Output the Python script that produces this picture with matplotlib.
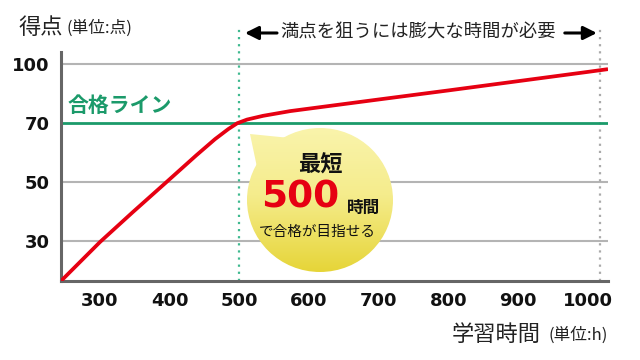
import numpy as np
import matplotlib
matplotlib.use("Agg")
import matplotlib.pyplot as plt
from matplotlib.patches import Ellipse, Polygon
from matplotlib.colors import LinearSegmentedColormap

plt.rcParams['font.family'] = ['Noto Sans CJK JP', 'DejaVu Sans']

# ------------------------------
# data
# ------------------------------
hours = [244, 300, 347, 395, 438, 465, 484, 497, 511, 534, 573, 616, 700, 800, 900, 1000, 1029]
score = [16.5, 29.7, 39.8, 49.9, 59.0, 64.5, 67.9, 69.9, 71.7, 73.6, 76.0, 78.0,
         81.9, 86.5, 91.2, 95.9, 97.3]

x_ticks = [300, 400, 500, 600, 700, 800, 900, 1000]
y_ticks = [30, 50, 70, 100]
pass_score = 70
min_hours = 500
span_end = 1018   # right dotted line (sits a bit past 1000 in the original)

RED = "#e60012"
GREEN = "#1b9a6a"
GRAY_GRID = "#b4b4b4"
AXIS = "#666666"

# y axis is not linear: ticks are evenly spaced
y_vals = [-100, 30, 50, 70, 100, 400]
y_pos = [-6.5, 0, 1, 2, 3, 13]


def fwd(v):
    return np.interp(v, y_vals, y_pos)


def inv(p):
    return np.interp(p, y_pos, y_vals)


fig = plt.figure(figsize=(6.4, 3.6), dpi=100)
ax = fig.add_axes([61 / 640, 79 / 360, 547 / 640, 229 / 360])
ax.set_yscale("function", functions=(fwd, inv))
ax.set_xlim(244, 1029)
ax.set_ylim(16.5, 106)

# grid lines
for v in y_ticks:
    if v == pass_score:
        ax.axhline(v, color=GREEN, lw=2.0, zorder=2)
    else:
        ax.axhline(v, color=GRAY_GRID, lw=1.5, zorder=1)

# dotted verticals
ax.axvline(min_hours, ymin=0, ymax=1.1, color="#3fb98f", lw=1.6,
           ls=(0, (1, 2.2)), clip_on=False, zorder=1)
ax.axvline(span_end, ymin=0, ymax=1.1, color="#aaaaaa", lw=1.6,
           ls=(0, (1, 2.2)), clip_on=False, zorder=1)

# main curve
ax.plot(hours, score, color=RED, lw=2.7, solid_capstyle="butt",
        solid_joinstyle="round", zorder=3)

# spines / ticks
for s in ["top", "right"]:
    ax.spines[s].set_visible(False)
for s in ["left", "bottom"]:
    ax.spines[s].set_color(AXIS)
    ax.spines[s].set_linewidth(2.2)
ax.set_xticks(x_ticks)
ax.set_yticks(y_ticks)
ax.set_xticklabels([str(t) for t in x_ticks])
ax.set_yticklabels([str(t) for t in y_ticks])
ax.tick_params(length=0, pad=8)
for lab in ax.get_xticklabels() + ax.get_yticklabels():
    lab.set_fontfamily("DejaVu Sans")
    lab.set_fontweight("bold")
    lab.set_fontsize(13)
    lab.set_color("#111111")

# labels
ax.text(0.012, 0.768, "合格ライン", transform=ax.transAxes,
        color=GREEN, fontsize=15, fontweight="bold", va="center", ha="left")

fig.text(18 / 640, 1 - 27 / 360, "得点", fontsize=16, color="#222222",
         va="center", ha="left")
fig.text(67 / 640, 1 - 28 / 360, "(単位:点)", fontsize=12, color="#222222",
         va="center", ha="left")
fig.text(452 / 640, 1 - 334 / 360, "学習時間", fontsize=16, color="#222222",
         va="center", ha="left")
fig.text(549 / 640, 1 - 335 / 360, "(単位:h)", fontsize=12, color="#222222",
         va="center", ha="left")

# top message with arrows
ax.text(0.5 * (min_hours + span_end) - 3, 1.083, "満点を狙うには膨大な時間が必要",
        transform=ax.get_xaxis_transform(), fontsize=13.2, color="#222222",
        ha="center", va="center")
arrow_kw = dict(arrowstyle="-|>,head_length=0.8,head_width=0.4", color="black",
                lw=2.2, shrinkA=0, shrinkB=0)
ax.annotate("", xy=(min_hours + 8, 1.083), xytext=(min_hours + 54, 1.083),
            xycoords=ax.get_xaxis_transform(), arrowprops=arrow_kw,
            annotation_clip=False)
ax.annotate("", xy=(span_end - 5, 1.083), xytext=(span_end - 51, 1.083),
            xycoords=ax.get_xaxis_transform(), arrowprops=arrow_kw,
            annotation_clip=False)

# ------------------------------
# speech bubble (overlay in pixel coords)
# ------------------------------
bx = fig.add_axes([0, 0, 1, 1])
bx.axis("off")

cx, cy, bw, bh = 320, 200, 146, 144
cmap = LinearSegmentedColormap.from_list("bub", ["#faf5b0", "#f5ec8c", "#e6d538"])
grad = np.linspace(0, 1, 256).reshape(-1, 1)
ext = [cx - bw / 2, cx + bw / 2, cy + bh / 2, cy - bh / 2]

tail = Polygon([[250, 134], [258, 172], [300, 139]], closed=True,
               facecolor="none", edgecolor="none")
ell = Ellipse((cx, cy), bw, bh, facecolor="none", edgecolor="none")
bx.add_patch(tail)
bx.add_patch(ell)
for clip in (tail, ell):
    im = bx.imshow(grad, cmap=cmap, extent=[240, cx + bw / 2, ext[2], ext[3] - 10],
                   aspect="auto", zorder=2)
    im.set_clip_path(clip)
bx.set_xlim(0, 640)
bx.set_ylim(360, 0)

bx.text(320, 172, "最短", fontsize=16, fontweight="bold", color="#111111",
        ha="center", va="baseline", zorder=3)
bx.text(300, 208, "500", fontsize=27, fontweight="bold", color=RED,
        family="DejaVu Sans", ha="center", va="baseline", zorder=3)
bx.text(364, 213, "時間", fontsize=12, fontweight="bold", color="#111111",
        ha="center", va="baseline", zorder=3)
bx.text(317, 236, "で合格が目指せる", fontsize=10.5, color="#111111",
        ha="center", va="baseline", zorder=3)

fig.savefig("out.png", dpi=100)
